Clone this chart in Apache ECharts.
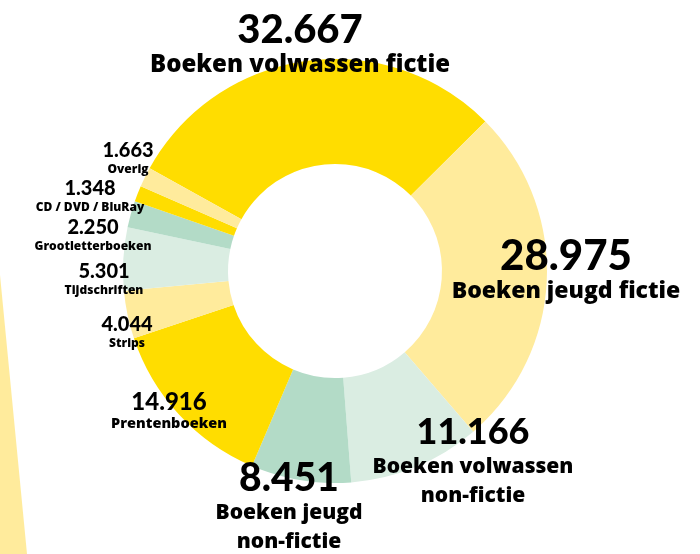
<!DOCTYPE html>
<html>
<head>
<meta charset="utf-8">
<script src="https://cdn.jsdelivr.net/npm/echarts@6/dist/echarts.min.js"></script>
<style>
html,body{margin:0;padding:0;background:#fff;}
#chart{width:700px;height:554px;}
</style>
</head>
<body>
<div id="chart"></div>
<script>
// Data
var categories = [
  'Boeken volwassen fictie',
  'Boeken jeugd fictie',
  'Boeken volwassen non-fictie',
  'Boeken jeugd non-fictie',
  'Prentenboeken',
  'Strips',
  'Tijdschriften',
  'Grootletterboeken',
  'CD / DVD / BluRay',
  'Overig'
];
var values = [32667, 28975, 11166, 8451, 14916, 4044, 5301, 2250, 1348, 1663];
var labelTexts = [
  'Boeken volwassen fictie',
  'Boeken jeugd fictie',
  'Boeken volwassen\nnon-fictie',
  'Boeken jeugd\nnon-fictie',
  'Prentenboeken',
  'Strips',
  'Tijdschriften',
  'Grootletterboeken',
  'CD / DVD / BluRay',
  'Overig'
];

// styling
var YEL = '#FFDD00', LYEL = '#FFEB9C', MINT = '#B3DBC7', LMINT = '#DAEDE2';
var colors = [YEL, LYEL, LMINT, MINT, YEL, LYEL, LMINT, MINT, YEL, LYEL];
var tiers = ['big', 'big', 'big', 'big', 'mid', 'small', 'small', 'small', 'small', 'small'];
var numSize = [40, 42, 36, 39, 24, 20, 20, 20, 20, 20];
var nameSize = [24, 23, 21, 21, 14.5, 12, 12, 12, 12, 12];
// label anchor (center x, top y)
var labelPos = [
  [300, 9], [566, 235], [473, 411], [289, 457], [169, 389],
  [127, 314], [104, 261], [93, 217], [90, 178], [128, 140]
];
var NUMFONT = 'Lato, sans-serif';
var TXTFONT = '"Open Sans", Lato, sans-serif';
var richByTier = {
  big: { v: { lineHeight: 42 }, n: { lineHeight: 29 } },
  mid: { v: { lineHeight: 26 }, n: { lineHeight: 18 } },
  small: { v: { lineHeight: 22 }, n: { lineHeight: 16 } }
};
function fmt(v) { return String(v).replace(/\B(?=(\d{3})+(?!\d))/g, '.'); }

function mkRich(i) {
  var r = richByTier[tiers[i]];
  return {
    v: Object.assign({ fontFamily: NUMFONT, fontWeight: 900, color: '#000', align: 'center', fontSize: numSize[i] }, r.v),
    n: Object.assign({ fontFamily: TXTFONT, fontWeight: 800, color: '#000', align: 'center', fontSize: nameSize[i] }, r.n)
  };
}

var data = categories.map(function (c, i) {
  var lines = labelTexts[i].split('\n').map(function (l) { return '{n|' + l + '}'; }).join('\n');
  return {
    name: c,
    value: values[i],
    itemStyle: { color: colors[i] },
    label: {
      formatter: '{v|' + fmt(values[i]) + '}\n' + lines,
      rich: mkRich(i)
    }
  };
});

var chart = echarts.init(document.getElementById('chart'), null, { renderer: 'canvas' });
chart.setOption({
  animation: false,
  backgroundColor: '#fff',
  graphic: [{
    type: 'polygon',
    z: -10,
    shape: { points: [[0, 275], [0, 554], [27, 554]] },
    style: { fill: LYEL }
  }],
  series: [{
    type: 'pie',
    center: [335, 271],
    radius: [107, 212],
    startAngle: 151,
    clockwise: true,
    silent: true,
    label: { show: true, position: 'outside', overflow: 'none', width: 400 },
    labelLine: { show: false },
    labelLayout: function (p) {
      var pos = labelPos[p.dataIndex];
      return { x: pos[0], y: pos[1], align: 'center', verticalAlign: 'top' };
    },
    data: data
  }]
});
</script>
</body>
</html>
